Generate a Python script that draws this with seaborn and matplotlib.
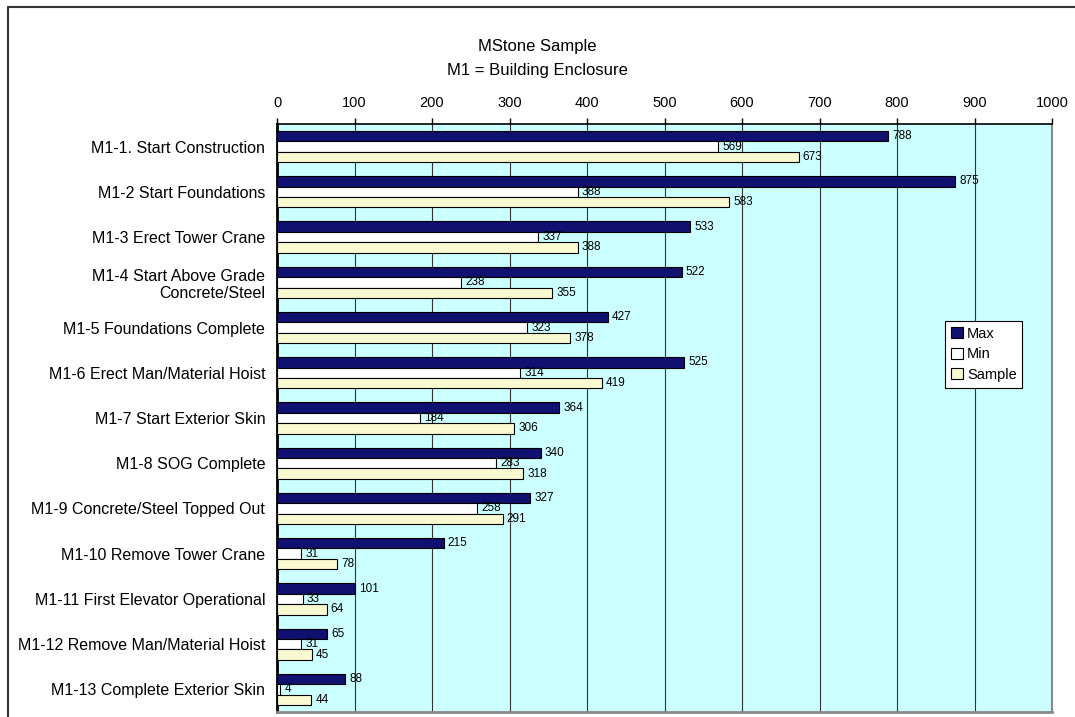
import matplotlib
matplotlib.use("Agg")
import matplotlib.pyplot as plt
import seaborn as sns
import pandas as pd
from matplotlib.lines import Line2D

categories = [
    "M1-1. Start Construction",
    "M1-2 Start Foundations",
    "M1-3 Erect Tower Crane",
    "M1-4 Start Above Grade\nConcrete/Steel",
    "M1-5 Foundations Complete",
    "M1-6 Erect Man/Material Hoist",
    "M1-7 Start Exterior Skin",
    "M1-8 SOG Complete",
    "M1-9 Concrete/Steel Topped Out",
    "M1-10 Remove Tower Crane",
    "M1-11 First Elevator Operational",
    "M1-12 Remove Man/Material Hoist",
    "M1-13 Complete Exterior Skin",
]
max_vals = [788, 875, 533, 522, 427, 525, 364, 340, 327, 215, 101, 65, 88]
min_vals = [569, 388, 337, 238, 323, 314, 184, 283, 258, 31, 33, 31, 4]
sample_vals = [673, 583, 388, 355, 378, 419, 306, 318, 291, 78, 64, 45, 44]
series = ["Max", "Min", "Sample"]
colors = ["#000080", "#FFFFFF", "#FFFFCC"]
x_ticks = [0, 100, 200, 300, 400, 500, 600, 700, 800, 900, 1000]

rows = []
for s, vals in zip(series, [max_vals, min_vals, sample_vals]):
    for c, v in zip(categories, vals):
        rows.append({"Milestone": c, "Series": s, "Value": v})
df = pd.DataFrame(rows)

sns.set_style("white")
plt.rcParams["font.family"] = ["Liberation Sans", "DejaVu Sans"]
plt.rcParams["text.color"] = "black"
plt.rcParams["xtick.color"] = "black"
plt.rcParams["ytick.color"] = "black"

fig = plt.figure(figsize=(10.75, 7.17), dpi=100)
W, H = 1075, 717
ax = fig.add_axes([277 / W, 1 - 712 / H, (1052 - 277) / W, (712 - 124) / H])
ax.set_facecolor("#CCFFFF")

sns.barplot(data=df, y="Milestone", x="Value", hue="Series", order=categories,
            hue_order=series, palette=colors, orient="h", width=0.69,
            edgecolor="black", linewidth=0.8, ax=ax, legend=True, zorder=3)

for cont in ax.containers:
    ax.bar_label(cont, fmt="%d", padding=3, fontsize=8.5, color="black")

ax.set_xlim(0, 1000)
ax.set_ylim(len(categories) - 0.5, -0.5)
ax.set_xticks(x_ticks)
ax.xaxis.tick_top()
ax.tick_params(axis="x", length=4, width=1, direction="out", pad=6, labelsize=10.5)
ax.set_xlabel("")
ax.set_ylabel("")
ax.grid(axis="x", color="#333333", linewidth=0.8, zorder=0)
ax.set_axisbelow(True)

ax.tick_params(axis="y", which="major", length=0, pad=8.5, labelsize=11.5)
ax.set_yticks([i + 0.5 for i in range(-1, len(categories))], minor=True)
ax.tick_params(axis="y", which="minor", direction="in", length=5, width=1.8, color="black")

ax.spines["top"].set_color("black")
ax.spines["top"].set_linewidth(1.2)
ax.spines["left"].set_linewidth(2)
ax.spines["left"].set_color("black")
ax.spines["right"].set_color("#888888")
ax.spines["right"].set_linewidth(1.5)
ax.spines["bottom"].set_color("#888888")
ax.spines["bottom"].set_linewidth(2)

leg = ax.legend(loc="upper left", bbox_to_anchor=((945 - 277) / (1052 - 277), 1 - (321 - 124) / (712 - 124)),
                frameon=True, fontsize=10.5, handlelength=0.8, handleheight=0.8,
                handletextpad=0.3, borderpad=0.4, labelspacing=0.45, borderaxespad=0)
leg.get_frame().set_edgecolor("black")
leg.get_frame().set_linewidth(0.8)
leg.get_frame().set_boxstyle("square", pad=0)
leg.get_frame().set_facecolor("white")
leg.get_frame().set_alpha(1)

fig.text(0.5, 1 - 47 / H, "MStone Sample", ha="center", va="center", fontsize=12)
fig.text(0.5, 1 - 70 / H, "M1 = Building Enclosure", ha="center", va="center", fontsize=12)

fig.lines.append(Line2D([8 / W, 1], [1 - 6.5 / H, 1 - 6.5 / H], transform=fig.transFigure,
                        color="#333333", linewidth=1.5))
fig.lines.append(Line2D([8 / W, 8 / W], [0, 1 - 6.5 / H], transform=fig.transFigure,
                        color="#333333", linewidth=1.5))

fig.savefig("out.png", dpi=100)
